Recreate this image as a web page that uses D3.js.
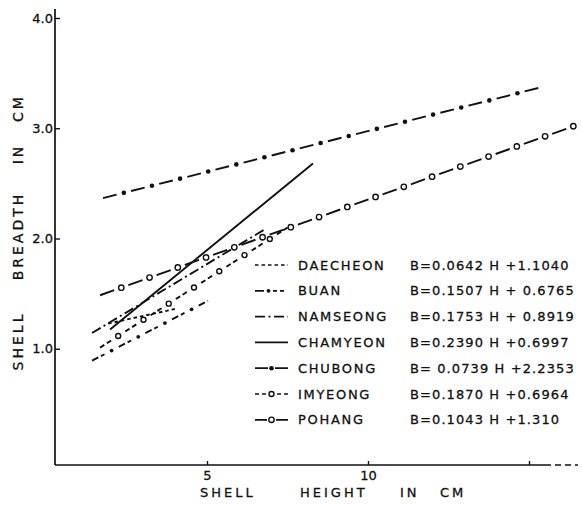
<!DOCTYPE html>
<html>
<head>
<meta charset="utf-8">
<script src="https://cdn.jsdelivr.net/npm/d3@7"></script>
<style>
  body { margin: 0; background: #fff; }
  svg { display: block; }
  text { font-family: "DejaVu Sans", "Liberation Sans", sans-serif; fill: #111; }
</style>
</head>
<body>
<svg id="chart" width="582" height="505"></svg>
<script>
// Shell breadth (B) vs. shell height (H) regressions for seven localities
const localities = ["DAECHEON", "BUAN", "NAMSEONG", "CHAMYEON", "CHUBONG", "IMYEONG", "POHANG"];
const slopes     = [0.0642, 0.1507, 0.1753, 0.2390, 0.0739, 0.1870, 0.1043];
const intercepts = [1.1040, 0.6765, 0.8919, 0.6997, 2.2353, 0.6964, 1.310];
const equationLabels = [
  "B=0.0642 H +1.1040",
  "B=0.1507 H + 0.6765",
  "B=0.1753 H + 0.8919",
  "B=0.2390 H +0.6997",
  "B= 0.0739 H +2.2353",
  "B=0.1870 H +0.6964",
  "B=0.1043 H +1.310"
];
// shell-height range (cm) covered by each regression line
const heightFrom = [1.93, 1.43, 1.43, 1.99, 1.77, 1.68, 1.68];
const heightTo   = [4.0, 5.03, 6.8, 8.29, 15.5, 7.5, 16.5];

const xTickValues = [5, 10, 15];
const xTickLabels = ["5", "10", ""];
const yTickValues = [1, 2, 3, 4];

const svg = d3.select("#chart");

const x = d3.scaleLinear().domain([0, 15]).range([46, 529]);
const y = d3.scaleLinear().domain([0, 4]).range([459, 18]);

const axisX0 = 55, axisX1 = 578, axisY0 = 465, axisYTop = 9;

// line styles: dash pattern plus an optional symbol repeated along the line
const styles = [
  { dash: "3.5,3",          mark: null },
  { dash: "7,3,4,16",       mark: "dot",    r: 1.9, period: 30, offset: 22 },
  { dash: "10,3.5,2,3.5",   mark: null },
  { dash: null,             mark: null },
  { dash: "14,15",          mark: "dot",    r: 2.3, period: 29, offset: 21.5 },
  { dash: "5,3,5,17",       mark: "circle", r: 2.5, period: 30, offset: 21.5 },
  { dash: "15,15",          mark: "circle", r: 2.7, period: 30, offset: 22.5 }
];

function addMark(g, st, px, py) {
  if (st.mark === "dot") {
    g.append("circle").attr("cx", px).attr("cy", py).attr("r", st.r).attr("fill", "#111");
  } else if (st.mark === "circle") {
    g.append("circle").attr("cx", px).attr("cy", py).attr("r", st.r)
      .attr("fill", "#fff").attr("stroke", "#111").attr("stroke-width", 1.4);
  }
}

// axes
const gAxes = svg.append("g");
gAxes.append("line").attr("x1", axisX0).attr("x2", axisX0).attr("y1", axisY0).attr("y2", axisYTop)
  .attr("stroke", "#111").attr("stroke-width", 1.7);
gAxes.append("line").attr("x1", axisX0).attr("x2", 545).attr("y1", axisY0).attr("y2", axisY0)
  .attr("stroke", "#111").attr("stroke-width", 1.7);
gAxes.append("line").attr("x1", 545).attr("x2", axisX1).attr("y1", axisY0).attr("y2", axisY0)
  .attr("stroke", "#111").attr("stroke-width", 1.5).attr("stroke-dasharray", "6,4");

const yAxis = d3.axisLeft(y).tickValues(yTickValues).tickFormat(d3.format(".1f"))
  .tickSizeInner(-5).tickSizeOuter(0).tickPadding(2);
const gy = svg.append("g").attr("transform", `translate(${axisX0},0)`).call(yAxis);
gy.select(".domain").remove();
gy.selectAll(".tick line").attr("stroke", "#111").attr("stroke-width", 1.4);
gy.selectAll(".tick text").attr("font-size", 13).attr("fill", "#111")
  .attr("stroke", "#111").attr("stroke-width", 0.3)
  .attr("font-family", "DejaVu Sans, sans-serif");

const xAxis = d3.axisBottom(x).tickValues(xTickValues)
  .tickFormat((d, i) => xTickLabels[i]).tickSizeInner(-4).tickSizeOuter(0).tickPadding(6);
const gx = svg.append("g").attr("transform", `translate(0,${axisY0})`).call(xAxis);
gx.select(".domain").remove();
gx.selectAll(".tick line").attr("stroke", "#111").attr("stroke-width", 1.4);
gx.selectAll(".tick text").attr("font-size", 13).attr("fill", "#111")
  .attr("stroke", "#111").attr("stroke-width", 0.3)
  .attr("font-family", "DejaVu Sans, sans-serif");

// axis titles, word by word
const xTitleWords = [["SHELL", 200], ["HEIGHT", 300], ["IN", 400], ["CM", 440]];
xTitleWords.forEach(([w, px]) => {
  svg.append("text").attr("x", px).attr("y", 497)
    .attr("font-size", 13).attr("letter-spacing", 3)
    .attr("stroke", "#111").attr("stroke-width", 0.3).text(w);
});

const yTitleWords = [["SHELL", 341], ["BREADTH", 236], ["IN", 154], ["CM", 108]];
yTitleWords.forEach(([w, py]) => {
  svg.append("text")
    .attr("transform", `translate(23,${py}) rotate(-90)`)
    .attr("text-anchor", "middle")
    .attr("font-size", 14).attr("letter-spacing", 3)
    .attr("stroke", "#111").attr("stroke-width", 0.3).text(w);
});

// regression lines
const gLines = svg.append("g");
localities.forEach((name, i) => {
  const st = styles[i];
  const h0 = heightFrom[i], h1 = heightTo[i];
  const pts = [[h0, slopes[i] * h0 + intercepts[i]], [h1, slopes[i] * h1 + intercepts[i]]];
  const line = d3.line().x(d => x(d[0])).y(d => y(d[1]));
  const g = gLines.append("g");
  const path = g.append("path")
    .attr("d", line(pts))
    .attr("fill", "none").attr("stroke", "#111").attr("stroke-width", 1.9)
    .attr("stroke-dasharray", st.dash);
  if (st.mark) {
    const node = path.node();
    const L = node.getTotalLength();
    for (let s = st.offset; s < L - 2; s += st.period) {
      const p = node.getPointAtLength(s);
      addMark(g, st, p.x, p.y);
    }
  }
});

// legend
const legendX = 255, legendY = 265, legendStep = 25.8;
const sampleDash = ["3.5,3", "9,9,4,3,4", "10,3.5,2,3.5", null, "13,7,13", "4,3,4,11,4,3,4", "12,9,12"];
const gLeg = svg.append("g");
localities.forEach((name, i) => {
  const st = styles[i];
  const cy = legendY + i * legendStep;
  const g = gLeg.append("g");
  g.append("line").attr("x1", legendX).attr("x2", legendX + 33).attr("y1", cy).attr("y2", cy)
    .attr("stroke", "#111").attr("stroke-width", 1.7)
    .attr("stroke-dasharray", sampleDash[i]);
  if (st.mark) addMark(g, st, legendX + (i === 1 ? 13.5 : 16.5), cy);
  g.append("text").attr("x", 298).attr("y", cy).attr("dy", "0.36em")
    .attr("font-size", 13).attr("letter-spacing", 1.7)
    .attr("stroke", "#111").attr("stroke-width", 0.3).text(name);
  g.append("text").attr("x", 410).attr("y", cy).attr("dy", "0.36em")
    .attr("font-size", 13).attr("letter-spacing", 1.1)
    .attr("stroke", "#111").attr("stroke-width", 0.3)
    .attr("xml:space", "preserve").text(equationLabels[i]);
});
</script>
</body>
</html>
